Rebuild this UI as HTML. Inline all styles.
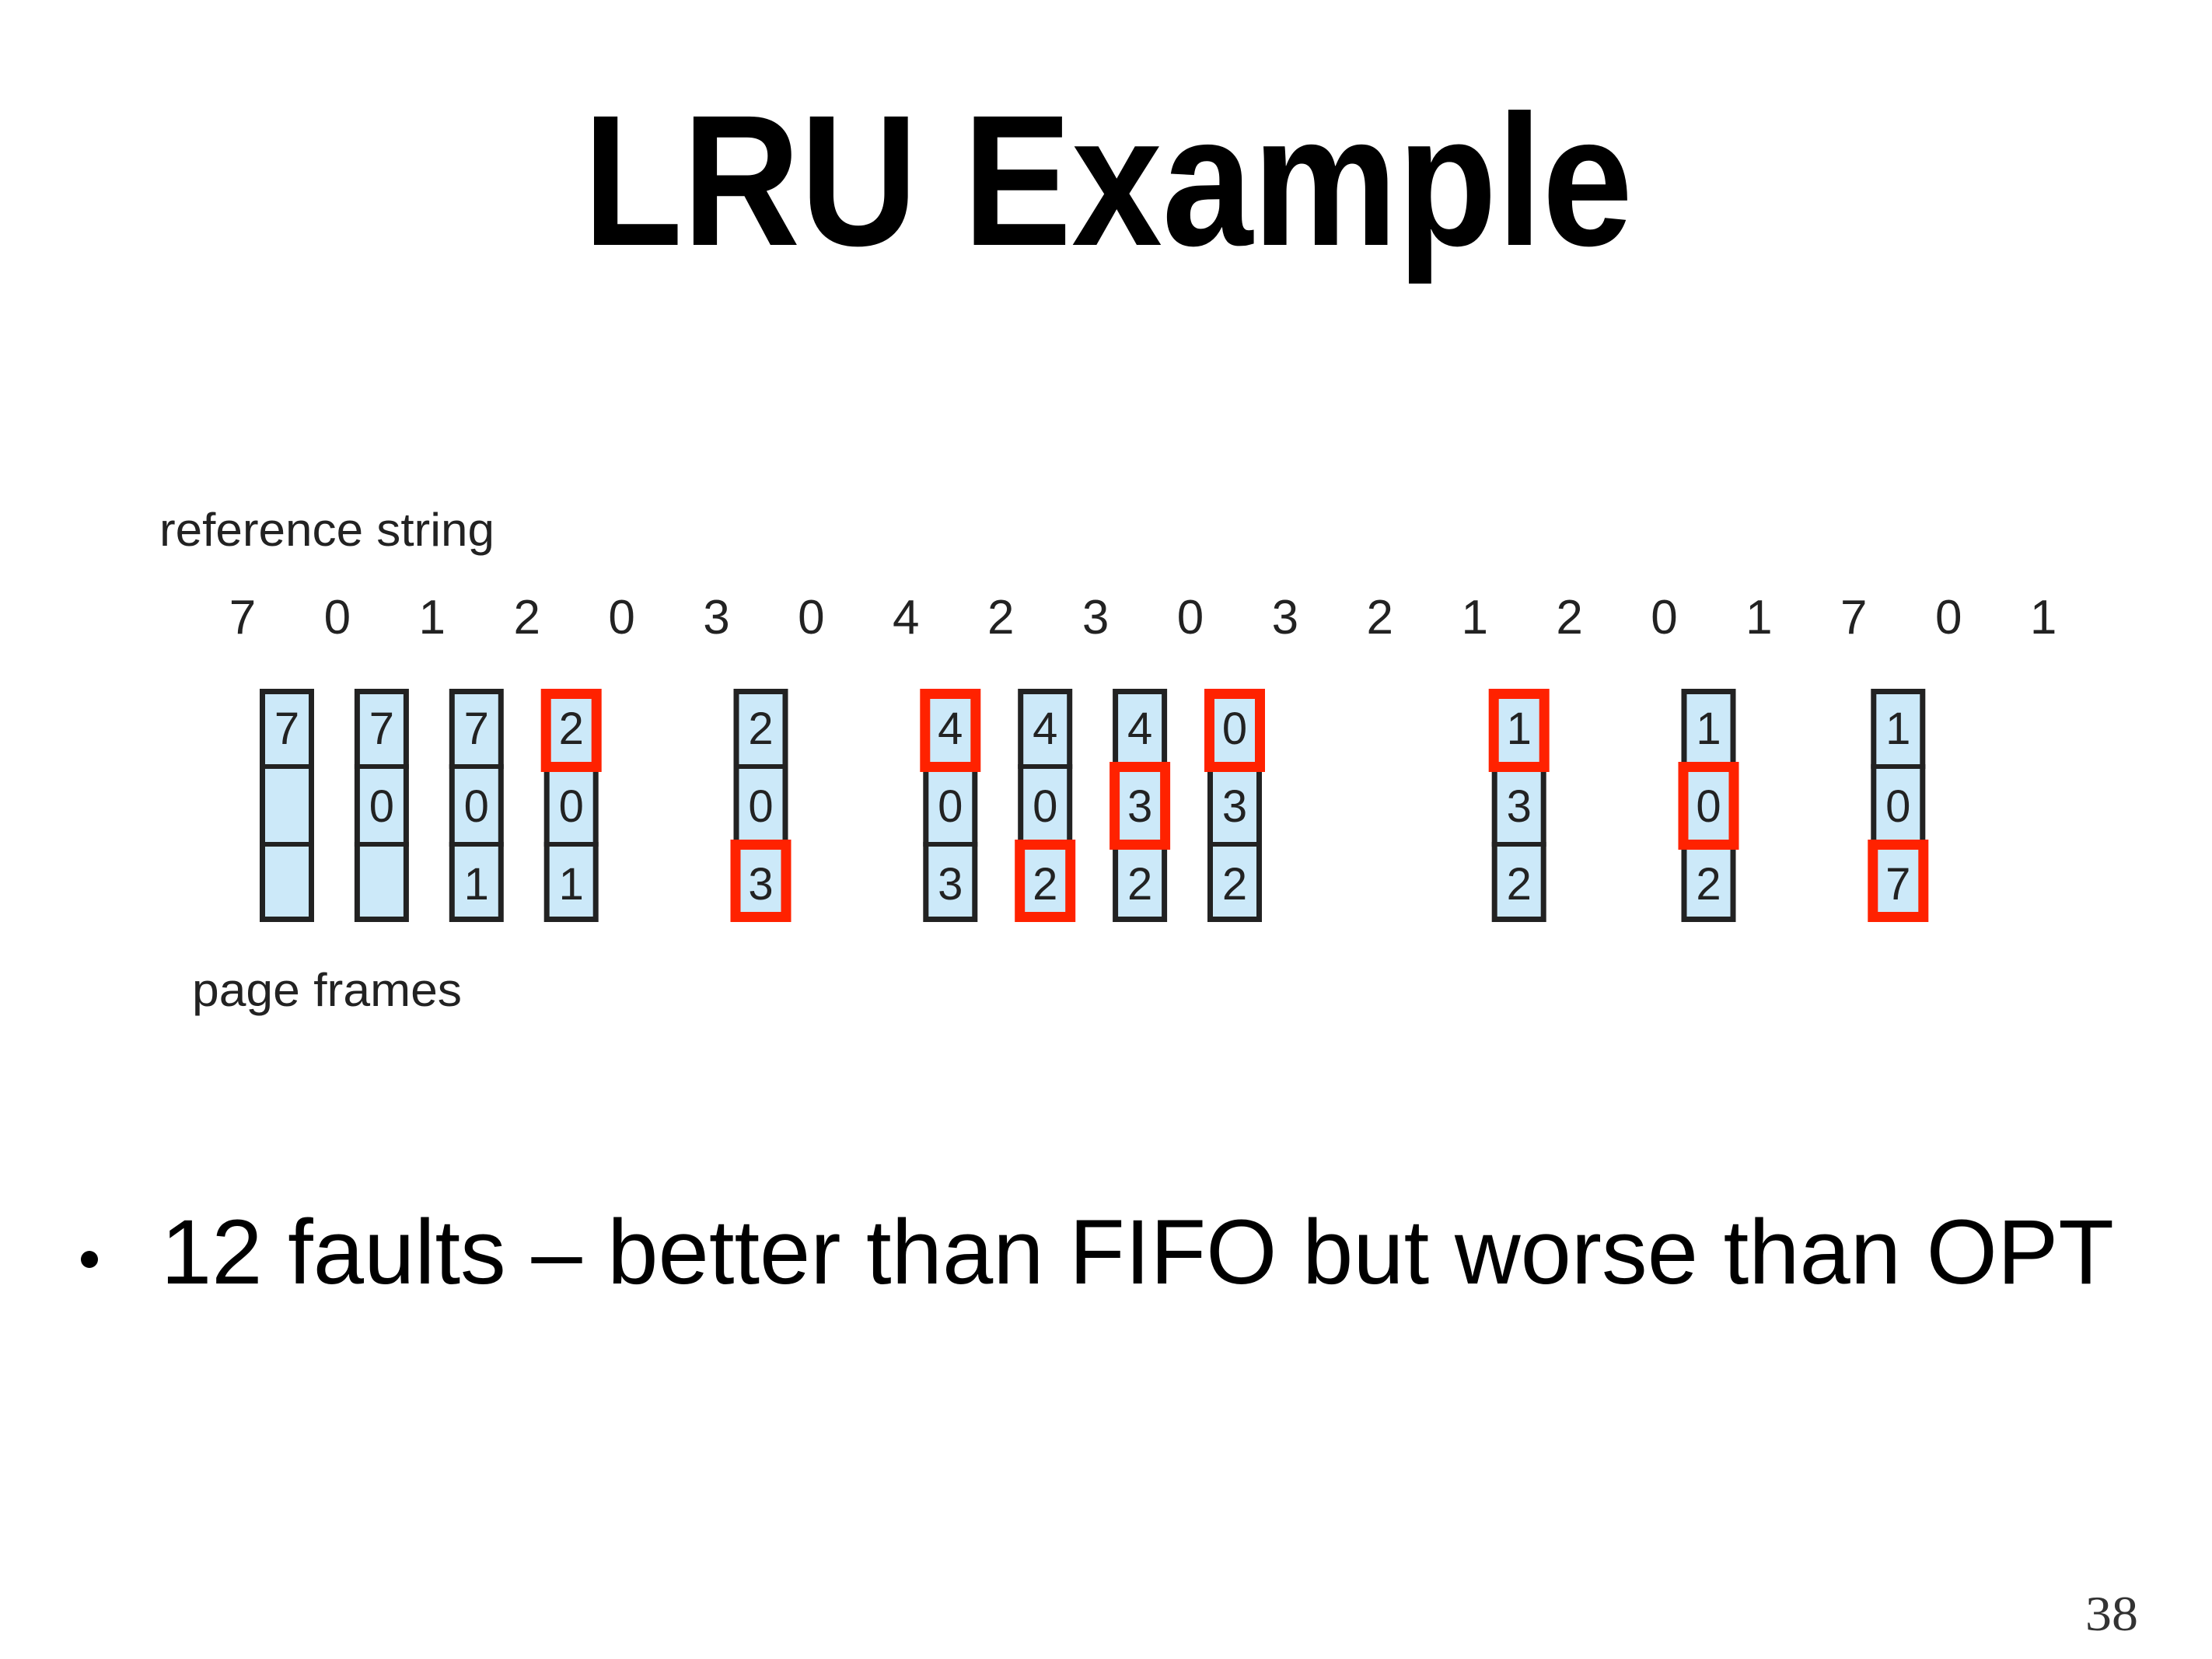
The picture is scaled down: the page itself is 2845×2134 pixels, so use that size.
<!DOCTYPE html>
<html><head><meta charset="utf-8"><style>
html,body{margin:0;padding:0;background:#fff;}
svg{display:block;}
</style></head><body>
<svg width="2845" height="2134" viewBox="0 0 2845 2134" xmlns="http://www.w3.org/2000/svg">
<rect width="2845" height="2134" fill="#fff"/>
<text x="750" y="315" font-family="Liberation Sans, sans-serif" font-weight="bold" font-size="240" textLength="1350" lengthAdjust="spacingAndGlyphs" fill="#000">LRU Example</text>
<text x="205" y="702" font-family="Liberation Sans, sans-serif" font-size="60" textLength="431" lengthAdjust="spacingAndGlyphs" fill="#222">reference string</text>
<text x="247" y="1294" font-family="Liberation Sans, sans-serif" font-size="60" textLength="347" lengthAdjust="spacingAndGlyphs" fill="#222">page frames</text>
<g font-family="Liberation Sans, sans-serif" font-size="62" fill="#222" text-anchor="middle" id="refs"></g>
<g id="frames"></g>
<circle cx="115" cy="1620" r="11" fill="#000"/>
<text x="207" y="1651" font-family="Liberation Sans, sans-serif" font-size="118" textLength="2512" lengthAdjust="spacingAndGlyphs" fill="#000">12 faults – better than FIFO but worse than OPT</text>
<text x="2682" y="2097" font-family="Liberation Serif, serif" font-size="64" textLength="68" lengthAdjust="spacingAndGlyphs" fill="#333">38</text>
</svg>
<script>
(function(){
var NS="http://www.w3.org/2000/svg";
function el(t,a,p,txt){var e=document.createElementNS(NS,t);for(var k in a)e.setAttribute(k,a[k]);if(txt!==undefined)e.textContent=txt;p.appendChild(e);return e;}
var SP=121.9;
var refs=[7,0,1,2,0,3,0,4,2,3,0,3,2,1,2,0,1,7,0,1];
var rg=document.getElementById('refs');
refs.forEach(function(v,i){el('text',{x:312+i*SP,y:815},rg,String(v));});
var cols=[[0,["7","",""],-1],[1,["7","0",""],-1],[2,["7","0","1"],-1],[3,["2","0","1"],0],[5,["2","0","3"],2],[7,["4","0","3"],0],[8,["4","0","2"],2],[9,["4","3","2"],1],[10,["0","3","2"],0],[13,["1","3","2"],0],[15,["1","0","2"],1],[17,["1","0","7"],2]];
var fg=document.getElementById('frames');
var ty=886,ch=100;
cols.forEach(function(c){
 var L=334+c[0]*SP;
 el('rect',{x:L+3.5,y:ty+3.5,width:63,height:3*ch-7,fill:"#cce9f9",stroke:"#222","stroke-width":7},fg);
 el('line',{x1:L,x2:L+70,y1:ty+ch,y2:ty+ch,stroke:"#222","stroke-width":6},fg);
 el('line',{x1:L,x2:L+70,y1:ty+2*ch,y2:ty+2*ch,stroke:"#222","stroke-width":6},fg);
 c[1].forEach(function(v,i){ if(v) el('text',{x:L+35,y:ty+i*ch+71,"font-family":"Liberation Sans, sans-serif","font-size":58,fill:"#222","text-anchor":"middle"},fg,v);});
 var r=c[2];
 if(r>=0){
  var y0=ty+r*ch-(r>0?6:0), y1=ty+(r+1)*ch+(r<2?7:0);
  el('rect',{x:L-4+6.5,y:y0+6.5,width:78-13,height:y1-y0-13,fill:"none",stroke:"#ff2200","stroke-width":13},fg);
 }
});
})();
</script>
</body></html>
